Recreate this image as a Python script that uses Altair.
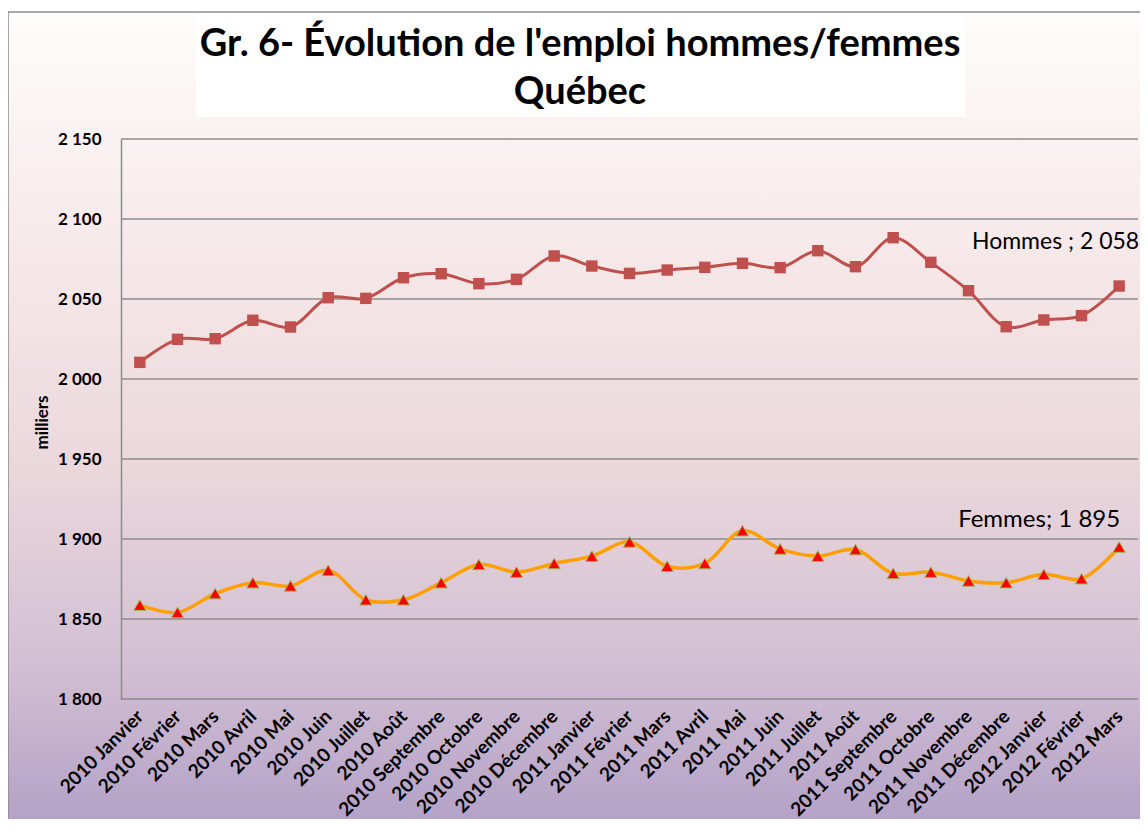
import altair as alt
import pandas as pd

mois = [
    "2010 Janvier", "2010 Février", "2010 Mars", "2010 Avril", "2010 Mai", "2010 Juin",
    "2010 Juillet", "2010 Août", "2010 Septembre", "2010 Octobre", "2010 Novembre",
    "2010 Décembre", "2011 Janvier", "2011 Février", "2011 Mars", "2011 Avril",
    "2011 Mai", "2011 Juin", "2011 Juillet", "2011 Août", "2011 Septembre",
    "2011 Octobre", "2011 Novembre", "2011 Décembre", "2012 Janvier", "2012 Février",
    "2012 Mars",
]
hommes = [2010.4, 2024.8, 2025.2, 2036.7, 2032.5, 2050.8, 2050.4, 2063.3, 2065.8,
          2059.6, 2062.3, 2076.9, 2070.6, 2066.0, 2068.1, 2069.8, 2072.3, 2069.6,
          2080.2, 2070.2, 2088.3, 2072.9, 2055.2, 2032.7, 2036.9, 2039.6, 2058.1]
femmes = [1858.7, 1854.1, 1865.9, 1872.7, 1870.7, 1880.4, 1862.0, 1862.0, 1872.7,
          1884.1, 1879.3, 1884.7, 1889.3, 1898.2, 1883.0, 1884.7, 1905.2, 1893.8,
          1889.3, 1893.4, 1878.5, 1879.3, 1873.8, 1872.7, 1877.9, 1875.2, 1895.0]
y_ticks = [1800, 1850, 1900, 1950, 2000, 2050, 2100, 2150]
titre = ["Gr. 6- Évolution de l'emploi hommes/femmes", "Québec"]
etiquettes = ["Hommes ; 2 058", "Femmes; 1 895"]

W, H = 1017, 560
PL, PT, PR, PB = 113, 131, 2, 120
FONT = "Lato"

df_h = pd.DataFrame({"mois": mois, "v": hommes})
df_f = pd.DataFrame({"mois": mois, "v": femmes})
df_grid = pd.DataFrame({"v": y_ticks})
one = pd.DataFrame({"a": [0]})

yscale = alt.Scale(domain=[1800, 2150], zero=False, nice=False)
xaxis_enc = alt.X(
    "mois:N", sort=mois, title=None,
    axis=alt.Axis(labelAngle=-45, labelAlign="right", labelBaseline="middle",
                  labelOverlap=False, labelFont=FONT, labelFontSize=19,
                  labelFontWeight="bold", labelColor="#000000", labelPadding=14,
                  labelLimit=300, ticks=False, domain=False, grid=False, zindex=1),
)
yaxis_enc = alt.Y(
    "v:Q", scale=yscale, title="milliers",
    axis=alt.Axis(values=y_ticks,
                  labelExpr="replace(format(datum.value, ','), ',', ' ')",
                  labelFont=FONT, labelFontSize=17, labelFontWeight="bold",
                  labelColor="#000000", labelPadding=20, ticks=False, grid=False,
                  domain=True, domainColor="#8c8c8c", domainWidth=1.5,
                  titleFont=FONT, titleFontSize=17, titleFontWeight="bold",
                  titleColor="#000000", titleAngle=-90, titleX=-79, titleY=283,
                  titleAlign="center", titleBaseline="middle", zindex=1),
)

gradient = {
    "gradient": "linear", "x1": 0, "y1": 0, "x2": 0, "y2": 1,
    "stops": [
        {"offset": 0.0, "color": "#fefcfc"},
        {"offset": 0.3, "color": "#f6e8e8"},
        {"offset": 0.55, "color": "#ebd8dc"},
        {"offset": 0.8, "color": "#d2bfd3"},
        {"offset": 1.0, "color": "#b2a0c7"},
    ],
}

bg = alt.Chart(one).mark_rect(fill=gradient, stroke="#8c8c8c", strokeWidth=1.5).encode(
    x=alt.value(-PL), x2=alt.value(W + PR + 10), y=alt.value(-PT + 4), y2=alt.value(H + PB + 10)
)
title_box = alt.Chart(one).mark_rect(fill="#ffffff").encode(
    x=alt.value(196 - 121), x2=alt.value(965 - 121), y=alt.value(15 - 139), y2=alt.value(117 - 139)
)
df_title = pd.DataFrame({"t": titre, "yy": [45 - 139, 93 - 139]})
title_txt = alt.Chart(df_title).mark_text(
    font=FONT, fontSize=38, fontWeight="bold", color="#000000", align="center", baseline="middle"
).encode(text="t:N", x=alt.value(580 - 121), y=alt.Y("yy:Q", scale=None))

grid = alt.Chart(df_grid).mark_rule(color="#8c8c8c", strokeWidth=1.5).encode(y=yaxis_enc)

line_h = alt.Chart(df_h).mark_line(color="#c0504d", strokeWidth=3, interpolate="catmull-rom").encode(
    x=xaxis_enc, y=alt.Y("v:Q", scale=yscale)
)
pts_h = alt.Chart(df_h).mark_point(shape="square", filled=True, size=130, color="#c0504d", opacity=1).encode(
    x=alt.X("mois:N", sort=mois), y=alt.Y("v:Q", scale=yscale)
)
line_f = alt.Chart(df_f).mark_line(color="#ff9f00", strokeWidth=3.5, interpolate="catmull-rom").encode(
    x=alt.X("mois:N", sort=mois), y=alt.Y("v:Q", scale=yscale)
)
pts_f = alt.Chart(df_f).mark_point(shape="triangle-up", filled=True, size=150, fill="#ff0000",
                                   stroke="#9bbb59", strokeWidth=1, opacity=1).encode(
    x=alt.X("mois:N", sort=mois), y=alt.Y("v:Q", scale=yscale)
)

df_lab = pd.DataFrame({"mois": [mois[-1], mois[-1]], "v": [hommes[-1], femmes[-1]],
                       "t": etiquettes})
lab_h = alt.Chart(df_lab.iloc[[0]]).mark_text(
    font=FONT, fontSize=23, color="#000000", align="right", baseline="middle", dx=20, dy=-44
).encode(x=alt.X("mois:N", sort=mois), y=alt.Y("v:Q", scale=yscale), text="t:N")
lab_f = alt.Chart(df_lab.iloc[[1]]).mark_text(
    font=FONT, fontSize=24, color="#000000", align="left", baseline="middle", dx=-161, dy=-27
).encode(x=alt.X("mois:N", sort=mois), y=alt.Y("v:Q", scale=yscale), text="t:N")

chart = alt.layer(
    bg, title_box, title_txt, grid, line_h, line_f, pts_h, pts_f, lab_h, lab_f
).properties(
    width=W, height=H,
    padding={"left": PL, "top": PT, "right": PR, "bottom": PB},
    autosize=alt.AutoSizeParams(type="none"),
).configure_view(stroke=None).configure(background="#ffffff")

chart.save("out.html", embed_options={"renderer": "svg", "actions": False})
